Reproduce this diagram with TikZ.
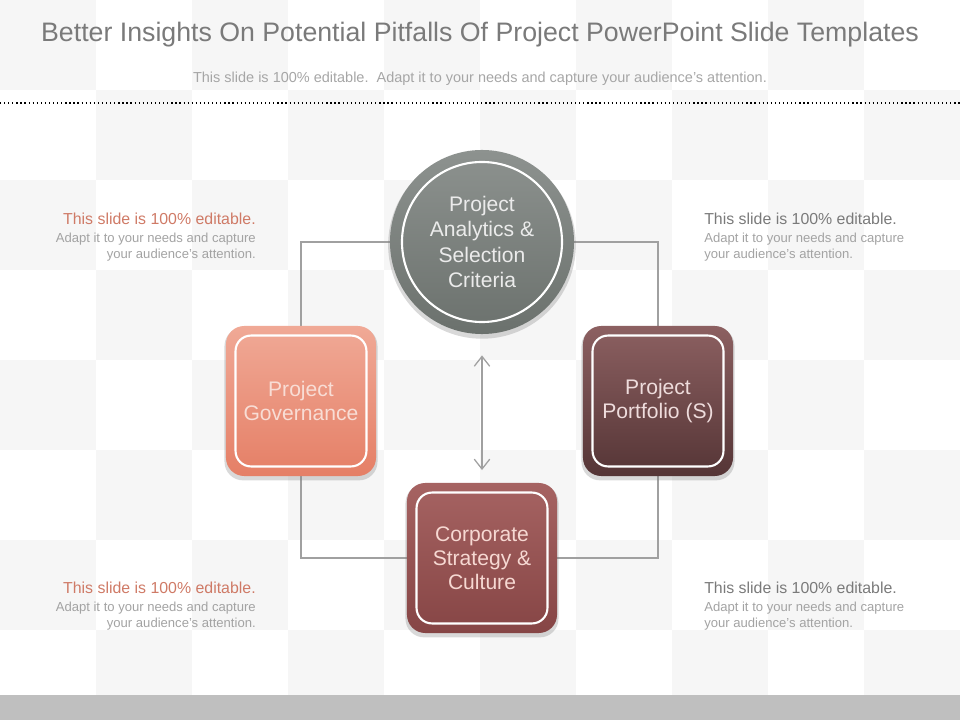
\documentclass[tikz,border=0pt]{standalone}
\usepackage{fontspec}
\setmainfont{Liberation Sans}
\usetikzlibrary{arrows.meta,shadows,backgrounds}
\definecolor{titlegray}{HTML}{7A7A7A}
\definecolor{subgray}{HTML}{A6A6A6}
\definecolor{notegray}{HTML}{A3A3A3}
\definecolor{notered}{HTML}{CF7A66}
\definecolor{linkgray}{HTML}{A0A0A0}
\definecolor{tilegray}{HTML}{F6F6F6}
\definecolor{bargray}{HTML}{BFBFBF}
\definecolor{hubtop}{HTML}{8D928F}
\definecolor{hubbottom}{HTML}{6B716D}
\definecolor{hubtext}{HTML}{EBEBEB}
\definecolor{govtop}{HTML}{F0A996}
\definecolor{govbottom}{HTML}{E57F66}
\definecolor{govtext}{HTML}{F8DDD5}
\definecolor{porttop}{HTML}{8C6061}
\definecolor{portbottom}{HTML}{553536}
\definecolor{porttext}{HTML}{EEDCDC}
\definecolor{corptop}{HTML}{A66362}
\definecolor{corpbottom}{HTML}{864545}
\definecolor{corptext}{HTML}{F6D8D2}

\begin{document}
\begin{tikzpicture}[x=0.025cm,y=-0.025cm,>={Straight Barb[length=7pt,width=11pt]}]
  \tikzset{
    headline/.style={text=titlegray,font=\fontsize{19}{22}\selectfont,inner sep=0pt},
    subline/.style={text=subgray,font=\fontsize{10.3}{12}\selectfont,inner sep=0pt},
    note/.style={text=notegray,font=\fontsize{9.3}{11.6}\selectfont,inner sep=0pt},
    link/.style={linkgray,line width=0.9pt},
    card/.style={minimum width=3.75cm,minimum height=3.75cm,rounded corners=13pt,align=center,
      font=\fontsize{15}{17}\selectfont,drop shadow={opacity=0.3,shadow xshift=0pt,shadow yshift=-2pt,shadow scale=1.02}},
    hub/.style={circle,minimum size=4.6cm,align=center,top color=hubtop,bottom color=hubbottom,
      text=hubtext,font=\fontsize{15}{18}\selectfont,drop shadow={opacity=0.3,shadow xshift=0pt,shadow yshift=-2pt,shadow scale=1.02}},
    rim/.style={white,line width=1.5pt,rounded corners=11pt}
  }
  \useasboundingbox (0,0) rectangle (960,720);

  % title area
  \node[headline] (title) at (480,35) {Better Insights On Potential Pitfalls Of Project PowerPoint Slide Templates};
  \node[subline] (subtitle) at (480,79) {This slide is 100\% editable.\ \ Adapt it to your needs and capture your audience's attention.};
  \draw[black,dotted,line width=0.9pt] (0,103) -- (960,103);
  \fill[bargray] (0,695) rectangle (960,720);

  % the four blocks
  \node[hub] (ana) at (482,242) {Project\\Analytics \&\\Selection\\Criteria};
  \draw[rim] (ana.center) circle[radius=2cm];
  \node[card,top color=govtop,bottom color=govbottom,text=govtext] (gov) at (301,401) {Project\\Governance};
  \node[card,top color=porttop,bottom color=portbottom,text=porttext] (port) at (658,401) {Project\\Portfolio (S)};
  \node[card,top color=corptop,bottom color=corpbottom,text=corptext] (corp) at (482,558) {Corporate\\Strategy \&\\Culture};
  \foreach \n in {gov,port,corp}
    \draw[rim] ([shift={(7pt,7pt)}]\n.south west) rectangle ([shift={(-7pt,-7pt)}]\n.north east);

  \draw[<->,link,shorten <=15pt,shorten >=9pt] (ana.south) -- (corp.north);

  % side notes
  \node[note,anchor=north east,align=right] (noteA) at (256,213) {{\fontsize{11.3}{12}\selectfont\textcolor{notered}{This slide is 100\% editable.}}\\[1pt]Adapt it to your needs and capture\\your audience's attention.};
  \node[note,anchor=north west,align=left] (noteB) at (704,213) {{\fontsize{11.3}{12}\selectfont\textcolor{titlegray}{This slide is 100\% editable.}}\\[1pt]Adapt it to your needs and capture\\your audience's attention.};
  \node[note,anchor=north east,align=right] (noteC) at (256,582) {{\fontsize{11.3}{12}\selectfont\textcolor{notered}{This slide is 100\% editable.}}\\[1pt]Adapt it to your needs and capture\\your audience's attention.};
  \node[note,anchor=north west,align=left] (noteD) at (704,582) {{\fontsize{11.3}{12}\selectfont\textcolor{titlegray}{This slide is 100\% editable.}}\\[1pt]Adapt it to your needs and capture\\your audience's attention.};

  \begin{pgfonlayer}{background}
    \foreach \i in {0,...,9}
      \foreach \j in {0,...,7}{
        \pgfmathtruncatemacro\k{mod(\i+\j,2)}
        \ifnum\k=0 \fill[tilegray] (\i*96,\j*90) rectangle ++(96,90);\fi
      }
    \draw[link] (gov.north) |- (ana.west);
    \draw[link] (port.north) |- (ana.east);
    \draw[link] (gov.south) |- (corp.west);
    \draw[link] (port.south) |- (corp.east);
  \end{pgfonlayer}
\end{tikzpicture}
\end{document}
